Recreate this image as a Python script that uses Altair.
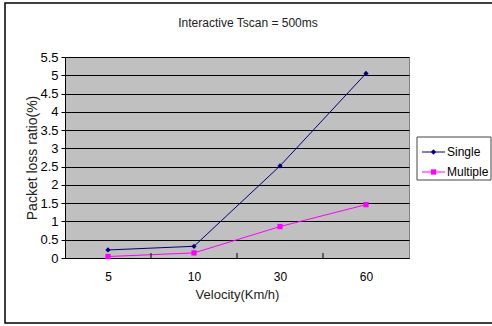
import altair as alt
import pandas as pd

# ---- data ----
velocity = ["5", "10", "30", "60"]
single = [0.22, 0.32, 2.52, 5.05]
multiple = [0.04, 0.14, 0.86, 1.46]
series_names = ["Single", "Multiple"]
series_colors = ["#000080", "#FF00FF"]
series_shapes = ["diamond", "square"]
y_ticks = [0, 0.5, 1, 1.5, 2, 2.5, 3, 3.5, 4, 4.5, 5, 5.5]
title_text = "Interactive Tscan = 500ms"

rows = []
for v, s, m in zip(velocity, single, multiple):
    rows.append({"Velocity": v, "Series": "Single", "Loss": s})
    rows.append({"Velocity": v, "Series": "Multiple", "Loss": m})
df = pd.DataFrame(rows)

W, H = 344, 201
FONT = "Liberation Sans"

x_enc = alt.X(
    "Velocity:N",
    sort=velocity,
    scale=alt.Scale(type="point", padding=0.5),
    axis=alt.Axis(
        title="Velocity(Km/h)", labelAngle=0, ticks=False, domainColor="black",
        labelPadding=13, titlePadding=6, labelFontSize=12, titleFontSize=13,
        labelFont=FONT, titleFont=FONT, labelColor="black", titleColor="#222",
        titleFontWeight="normal",
    ),
)
y_enc = alt.Y(
    "Loss:Q",
    scale=alt.Scale(domain=[0, 5.5], nice=False, zero=True),
    axis=alt.Axis(
        values=y_ticks, format="~g", title="Packet loss ratio(%)", grid=True,
        gridColor="black", gridWidth=1, gridOpacity=1, tickSize=4, tickColor="black",
        domainColor="black", labelPadding=3, labelFontSize=13, titleFontSize=14,
        labelFont=FONT, titleFont=FONT, labelColor="black", titleColor="#222",
        titleFontWeight="normal", titleX=-33, titleY=H / 2, titleAngle=270,
        titleAlign="center", titleBaseline="middle", labelFlush=False,
    ),
)
color_enc = alt.Color("Series:N", scale=alt.Scale(domain=series_names, range=series_colors), legend=None)
shape_enc = alt.Shape("Series:N", scale=alt.Scale(domain=series_names, range=series_shapes), legend=None)

base = alt.Chart(df).encode(x=x_enc, y=y_enc, color=color_enc)
lines = base.mark_line(strokeWidth=1)
points = base.mark_point(filled=True, size=28, opacity=1).encode(shape=shape_enc)

one = pd.DataFrame({"a": [0]})

# outer frame
frame = alt.Chart(one).mark_rect(fill="transparent", stroke="black", strokeWidth=1.5).encode(
    x=alt.value(-60), x2=alt.value(445), y=alt.value(-54), y2=alt.value(266)
)

# inward x ticks at category boundaries
xticks = [
    alt.Chart(one).mark_rule(color="black", strokeWidth=1).encode(
        x=alt.value(xv), y=alt.value(H - 5), y2=alt.value(H)
    )
    for xv in (86, 172, 258)
]

# title
title = alt.Chart(pd.DataFrame({"t": [title_text]})).mark_text(
    font=FONT, fontSize=12, color="#222", align="center", baseline="middle"
).encode(x=alt.value(183), y=alt.value(-34), text="t:N")

# manual legend
legend_layers = [
    alt.Chart(one).mark_rect(fill="white", stroke="#444", strokeWidth=1).encode(
        x=alt.value(352), x2=alt.value(426), y=alt.value(80), y2=alt.value(123)
    )
]
for i, (name, col, shp) in enumerate(zip(series_names, series_colors, series_shapes)):
    yy = 95 + 20 * i
    legend_layers.append(
        alt.Chart(one).mark_rule(color=col, strokeWidth=1).encode(
            x=alt.value(357), x2=alt.value(380), y=alt.value(yy)
        )
    )
    legend_layers.append(
        alt.Chart(one).mark_point(filled=True, size=28, opacity=1, color=col, shape=shp).encode(
            x=alt.value(368.5), y=alt.value(yy)
        )
    )
    legend_layers.append(
        alt.Chart(pd.DataFrame({"t": [name]})).mark_text(
            font=FONT, fontSize=12, color="black", align="left", baseline="middle"
        ).encode(x=alt.value(382), y=alt.value(yy), text="t:N")
    )

chart = alt.layer(
    lines, points, *xticks, frame, title, *legend_layers
).properties(
    width=W, height=H,
    background="white",
    autosize=alt.AutoSizeParams(type="none"),
    padding={"left": 65, "top": 57, "right": 83, "bottom": 68},
).configure_view(
    fill="#C0C0C0", stroke="#808080", strokeWidth=1
)

chart.save("out.html", embed_options={"renderer": "svg", "actions": False})
